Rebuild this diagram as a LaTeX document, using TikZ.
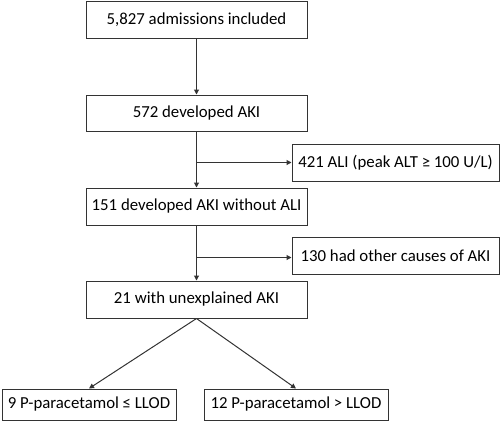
\documentclass[tikz,border=0pt]{standalone}
\usepackage{fontspec}
\setmainfont{Carlito}
\usetikzlibrary{arrows.meta}
\begin{document}
\begin{tikzpicture}[x=1pt,y=-1pt,
  box/.style={draw=black!80,line width=1pt,fill=white,inner sep=0pt,font=\fontsize{16.8}{19}\selectfont},
  conn/.style={draw=black!80,line width=1pt,-{Triangle[length=5pt,width=5pt]}}]
\useasboundingbox (0,0) rectangle (500,421);
\node[box,minimum width=221pt,minimum height=37pt] (b1) at (196.5,19.5) {5,827 admissions included};
\node[box,minimum width=221pt,minimum height=36pt] (b2) at (196.5,113) {572 developed AKI};
\node[box,minimum width=207pt,minimum height=37pt] (b3) at (395.5,162.5) {421 ALI (peak ALT ≥ 100 U/L)};
\node[box,minimum width=221pt,minimum height=37pt] (b4) at (196.5,206.5) {151 developed AKI without ALI};
\node[box,minimum width=207pt,minimum height=37pt] (b5) at (395.5,255.5) {130 had other causes of AKI};
\node[box,minimum width=221pt,minimum height=37pt] (b6) at (196.5,299.5) {21 with unexplained AKI};
\node[box,minimum width=174pt,minimum height=31pt] (b7) at (89,404.5) {9 P-paracetamol ≤ LLOD};
\node[box,minimum width=184pt,minimum height=31pt] (b8) at (296,404.5) {12 P-paracetamol > LLOD};
\coordinate (j1) at (196.5,162.5);
\coordinate (j2) at (196.5,257.5);
\draw[conn] (b1.south) -- (b2.north);
\draw[conn] (b2.south) -- (b4.north);
\draw[conn] (j1) -- (j1 -| b3.west);
\draw[conn] (b4.south) -- (b6.north);
\draw[conn] (j2) -- (j2 -| b5.west);
\draw[conn] (b6.south) -- (b7.north);
\draw[conn] (b6.south) -- (b8.north);
\end{tikzpicture}
\end{document}
